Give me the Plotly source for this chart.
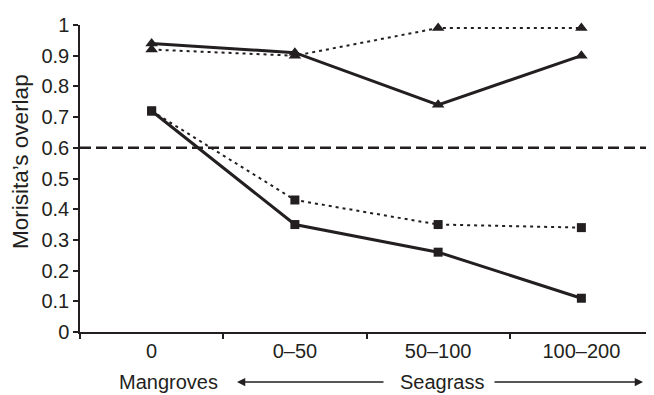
import plotly.graph_objects as go

categories = ["0", "0–50", "50–100", "100–200"]
tri_solid = [0.94, 0.91, 0.74, 0.90]
tri_dotted = [0.92, 0.90, 0.99, 0.99]
sq_solid = [0.72, 0.35, 0.26, 0.11]
sq_dotted = [0.72, 0.43, 0.35, 0.34]
y_ticks = [0, 0.1, 0.2, 0.3, 0.4, 0.5, 0.6, 0.7, 0.8, 0.9, 1]
y_ticktext = ["0", "0.1", "0.2", "0.3", "0.4", "0.5", "0.6", "0.7", "0.8", "0.9", "1"]
threshold = 0.6

C = "#231f20"
FONT = "Liberation Sans, Arial, sans-serif"

fig = go.Figure()

def add(y, dash, width, symbol, size):
    fig.add_trace(go.Scatter(
        x=categories, y=y, mode="lines+markers",
        line=dict(color=C, width=width, dash=dash),
        marker=dict(symbol=symbol, size=size, color=C),
        showlegend=False, cliponaxis=False))

add(tri_dotted, "3px,4px", 2, "triangle-up", 11)
add(sq_dotted, "3px,4px", 2, "square", 9)
add(tri_solid, "solid", 3, "triangle-up", 11)
add(sq_solid, "solid", 3, "square", 9)

fig.add_shape(type="line", xref="paper", yref="y", x0=0, x1=1, y0=threshold, y1=threshold,
              line=dict(color=C, width=2.5, dash="11px,5px"))

OFF = 8  # page body margin
W, H = 654 - OFF, 395 - OFF
L, R, T, B = 72, 1, 17, 63
pw, ph = W - L - R, H - T - B

def px(xp):
    return (xp - OFF - L) / pw

def py(yp):
    return (H - B - (yp - OFF)) / ph

ann_y = py(382)
fig.add_annotation(xref="paper", yref="paper", x=px(168), y=ann_y, text="Mangroves",
                   showarrow=False, yanchor="middle", xanchor="center",
                   font=dict(size=20, color=C, family=FONT))
fig.add_annotation(xref="paper", yref="paper", x=px(443), y=ann_y, text="Seagrass",
                   showarrow=False, yanchor="middle", xanchor="center",
                   font=dict(size=20, color=C, family=FONT))
fig.add_annotation(xref="paper", yref="paper", x=px(237), y=ann_y, ax=148, ay=0,
                   axref="pixel", ayref="pixel", text="", showarrow=True,
                   arrowhead=2, arrowsize=1.1, arrowwidth=1.5, arrowcolor=C)
fig.add_annotation(xref="paper", yref="paper", x=px(643), y=ann_y, ax=-150, ay=0,
                   axref="pixel", ayref="pixel", text="", showarrow=True,
                   arrowhead=2, arrowsize=1.1, arrowwidth=1.5, arrowcolor=C)
fig.add_annotation(xref="paper", yref="paper", x=px(20), y=py(162), text="Morisita’s overlap",
                   textangle=-90, showarrow=False, xanchor="center", yanchor="middle",
                   font=dict(size=22.5, color=C, family=FONT))

fig.update_layout(
    width=W, height=H, margin=dict(l=L, r=R, t=T, b=B),
    paper_bgcolor="white", plot_bgcolor="white",
    font=dict(family=FONT, size=20, color=C),
)
fig.update_xaxes(type="category", tickson="boundaries", ticks="outside", ticklen=5,
                 tickwidth=1.5, tickcolor=C, showline=True, linecolor=C, linewidth=1.5,
                 showgrid=False, zeroline=False, range=[-0.5, 3.5],
                 tickfont=dict(size=20, color=C, family=FONT))
fig.update_yaxes(range=[0, 1], tickvals=y_ticks, ticktext=y_ticktext, ticks="outside",
                 ticklen=5, tickwidth=1.5, tickcolor=C, showline=True, linecolor=C,
                 linewidth=1.5, showgrid=False, zeroline=False,
                 tickfont=dict(size=20, color=C, family=FONT))

fig.write_html("out.html")
